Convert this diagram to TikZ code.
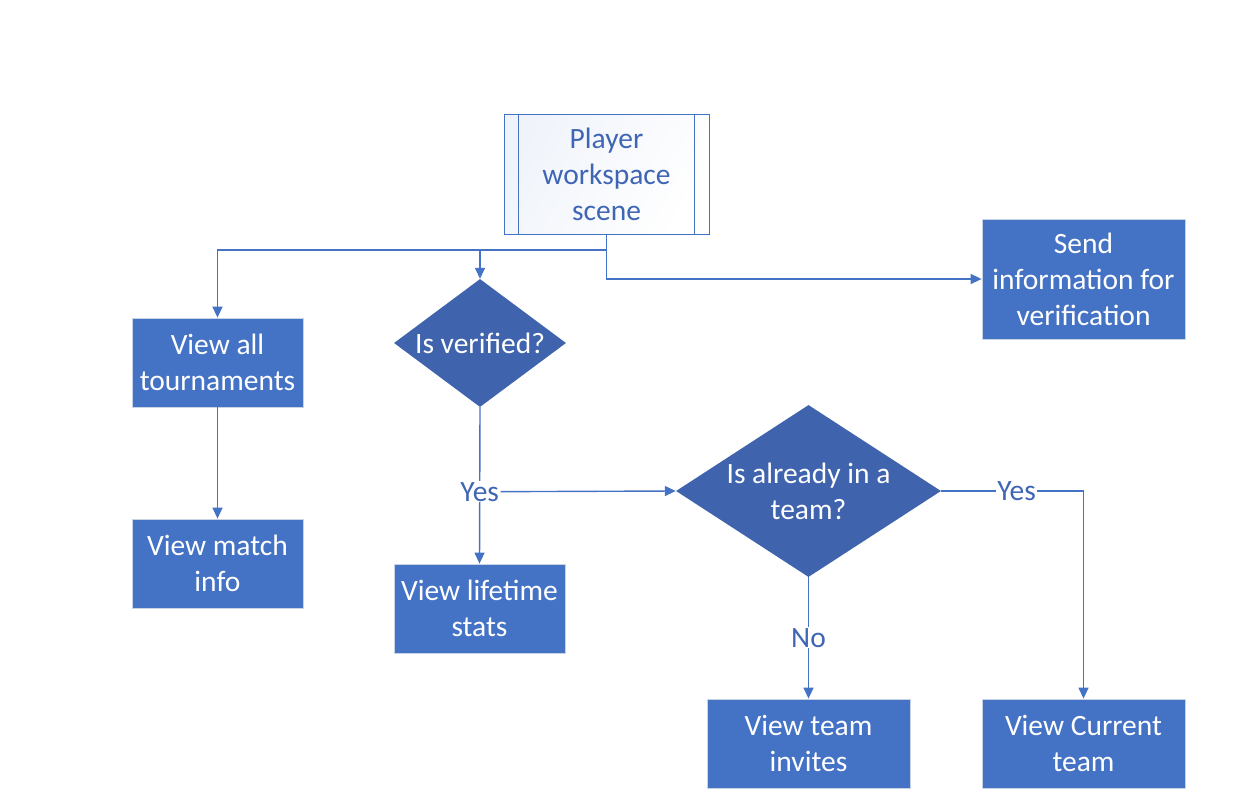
\documentclass[tikz,border=0pt]{standalone}
\usepackage{fontspec}
\setmainfont{Carlito}
\usetikzlibrary{shapes.geometric,arrows.meta}
\definecolor{lineblue}{HTML}{4472C4}
\definecolor{boxblue}{HTML}{4472C4}
\definecolor{diablue}{HTML}{3F63AD}
\definecolor{txtblue}{HTML}{3F65B5}
\definecolor{boxedge}{HTML}{C9D3E6}
\begin{document}
\begin{tikzpicture}[x=1pt,y=-1pt,
  every node/.style={font=\fontsize{29.5}{36}\selectfont},
  procbox/.style={draw=boxedge,line width=0.8pt,fill=boxblue,text=white,align=center,inner sep=0pt},
  decision/.style={diamond,draw=none,fill=diablue,text=white,align=center,inner sep=0pt},
  conn/.style={draw=lineblue,line width=1.4pt,-{Triangle[length=11pt,width=10pt]}},
  plain/.style={draw=lineblue,line width=1.4pt},
  lbl/.style={fill=white,text=txtblue,inner sep=1pt}]
\useasboundingbox (0,0) rectangle (1242,795);
% start node
\node[draw=lineblue,line width=1pt,top color=white!92!lineblue,bottom color=white,shading angle=60,
  minimum width=205pt,minimum height=120pt,text=txtblue,align=center,inner sep=0pt] (start) at (606.5,174) {Player\\workspace\\scene};
\draw[lineblue,line width=1pt] ([xshift=15pt]start.north west) -- ([xshift=15pt]start.south west);
\draw[lineblue,line width=1pt] ([xshift=-15pt]start.north east) -- ([xshift=-15pt]start.south east);
% process boxes
\node[procbox,minimum width=171pt,minimum height=89pt] (tour) at (217.5,362.5) {View all\\tournaments};
\node[procbox,minimum width=171pt,minimum height=89pt] (match) at (217.5,563.5) {View match\\info};
\node[procbox,minimum width=203pt,minimum height=120pt] (send) at (1083.5,279) {Send\\information for\\verification};
\node[procbox,minimum width=171pt,minimum height=89pt] (life) at (479.5,608.5) {View lifetime\\stats};
\node[procbox,minimum width=203pt,minimum height=89pt] (inv) at (808.5,743.5) {View team\\invites};
\node[procbox,minimum width=203pt,minimum height=89pt] (cur) at (1083.5,743.5) {View Current\\team};
% decisions
\node[decision,minimum width=172pt,minimum height=128pt,aspect=1.34] (ver) at (480,343) {Is verified?};
\node[decision,minimum width=265pt,minimum height=172pt,aspect=1.54] (team) at (808.5,491) {Is already in a\\team?};
% connectors
\coordinate (j1) at (606.5,250);
\draw[plain] (start.south) -- (j1);
\draw[conn] (j1) -| (tour.north);
\draw[conn] (j1) -| (ver.north);
\draw[conn] (start.south) |- (send.west);
\draw[conn] (tour.south) -- (match.north);
\draw[conn] (ver.south) -- node[lbl,pos=0.54] (yes1) {Yes} (life.north);
\draw[conn] (yes1.east) -- (team.west);
\coordinate (c2) at (1083.5,491);
\draw[plain] (team.east) -- node[lbl,pos=0.53] {Yes} (c2);
\draw[conn] (c2) -- (cur.north);
\draw[conn] (team.south) -- node[lbl,pos=0.5] {No} (inv.north);
\end{tikzpicture}
\end{document}
